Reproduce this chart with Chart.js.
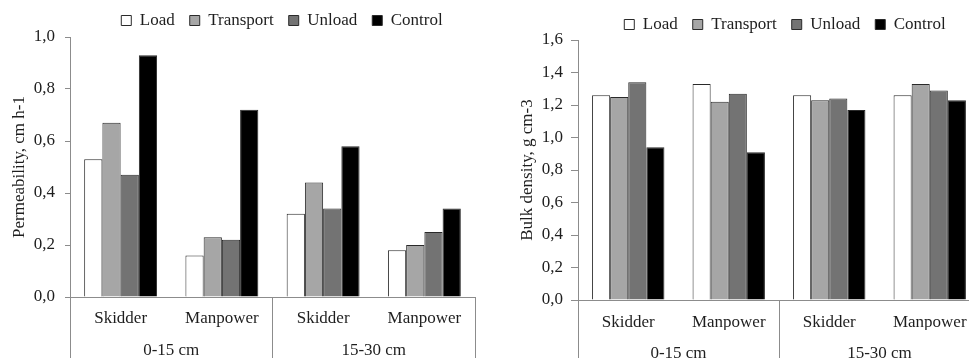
<!DOCTYPE html>
<html>
<head>
<meta charset="utf-8">
<script src="https://cdn.jsdelivr.net/npm/chart.js@4.4.1/dist/chart.umd.min.js"></script>
<style>
  html, body { margin: 0; padding: 0; background: #ffffff; width: 969px; height: 358px; overflow: hidden; }
  .wrap { position: absolute; }
  #leftWrap { left: 0px; top: -3px; width: 564px; height: 361px; }
  #rightWrap { left: 505px; top: 1px; width: 560px; height: 370px; }
</style>
</head>
<body>
<div id="leftWrap" class="wrap"><canvas id="perm" width="564" height="361"></canvas></div>
<div id="rightWrap" class="wrap"><canvas id="bulk" width="560" height="370"></canvas></div>
<script>
// ---- data ----
const categories = ['Skidder', 'Manpower', 'Skidder', 'Manpower'];
const depthGroups = ['0-15 cm', '15-30 cm'];
const seriesNames = ['Load', 'Transport', 'Unload', 'Control'];

const permLoad      = [0.53, 0.16, 0.32, 0.18];
const permTransport = [0.67, 0.23, 0.44, 0.20];
const permUnload    = [0.47, 0.22, 0.34, 0.25];
const permControl   = [0.93, 0.72, 0.58, 0.34];

const bulkLoad      = [1.26, 1.33, 1.26, 1.26];
const bulkTransport = [1.25, 1.22, 1.23, 1.33];
const bulkUnload    = [1.34, 1.27, 1.24, 1.29];
const bulkControl   = [0.94, 0.91, 1.17, 1.23];

const permTickLabels = ['0,0', '0,2', '0,4', '0,6', '0,8', '1,0'];
const bulkTickLabels = ['0,0', '0,2', '0,4', '0,6', '0,8', '1,0', '1,2', '1,4', '1,6'];

// ---- styling ----
const FONT = 'Liberation Serif, "Times New Roman", serif';
const TEXT = '#1e1e1e';
const AXIS = '#8c8c8c';
const fills = ['#ffffff', '#a6a6a6', '#737373', '#000000'];
const EDGE = '#2a2a2a';

function makeDatasets(arrs) {
  return arrs.map((d, i) => ({
    label: seriesNames[i],
    data: d,
    backgroundColor: fills[i],
    borderColor: EDGE,
    borderWidth: 1,
    borderSkipped: 'start',
    categoryPercentage: 0.72,
    barPercentage: 1.0
  }));
}

function makeChart(id, cfg) {
  const font = { family: FONT, size: 17 };
  return new Chart(document.getElementById(id), {
    type: 'bar',
    data: { labels: categories, datasets: makeDatasets(cfg.series) },
    options: {
      responsive: false,
      animation: false,
      devicePixelRatio: 1,
      layout: { padding: 0 },
      plugins: {
        legend: {
          position: 'top',
          maxHeight: cfg.legendH,
          labels: { font: font, color: TEXT, boxWidth: 10, boxHeight: 10, padding: 15 }
        },
        tooltip: { enabled: false }
      },
      scales: {
        y: {
          position: 'left',
          min: 0, max: cfg.max,
          afterFit: s => { s.width = cfg.yW; },
          ticks: {
            stepSize: 0.2, font: font, color: TEXT, padding: cfg.tickPad,
            callback: (v, i) => cfg.tickLabels[i]
          },
          grid: { drawOnChartArea: false, drawTicks: true, tickLength: cfg.tickLen, color: AXIS },
          border: { color: AXIS, width: 1 },
          title: { display: true, text: cfg.title, font: font, color: TEXT, padding: { top: cfg.titlePad, bottom: 0 } }
        },
        yPad: {
          position: 'right',
          display: true,
          afterFit: s => { s.width = cfg.rightW; },
          ticks: { display: false },
          grid: { display: false },
          border: { display: false }
        },
        x: {
          position: 'bottom',
          offset: true,
          afterFit: s => { s.height = cfg.h1; },
          ticks: { font: font, color: TEXT, maxRotation: 0, autoSkip: false, padding: cfg.p1 },
          grid: {
            offset: true, drawOnChartArea: false, drawTicks: true, tickLength: cfg.h1,
            color: c => (c.index === 1 || c.index === 3) ? 'rgba(0,0,0,0)' : AXIS
          },
          border: { color: AXIS, width: 1 }
        },
        xGroup: {
          type: 'category',
          position: 'bottom',
          labels: depthGroups,
          offset: true,
          afterFit: s => { s.height = cfg.h2; },
          ticks: { font: font, color: TEXT, maxRotation: 0, autoSkip: false, padding: cfg.p2 },
          grid: { offset: true, drawOnChartArea: false, drawTicks: true, tickLength: cfg.h2 + 10, color: AXIS },
          border: { display: false }
        }
      }
    }
  });
}

makeChart('perm', {
  series: [permLoad, permTransport, permUnload, permControl],
  max: 1.0, tickLabels: permTickLabels, title: 'Permeability, cm h-1',
  legendH: 40, yW: 70, rightW: 89, tickPad: 10, tickLen: 5, titlePad: 9,
  h1: 30, p1: -19, h2: 31, p2: -28
});

makeChart('bulk', {
  series: [bulkLoad, bulkTransport, bulkUnload, bulkControl],
  max: 1.6, tickLabels: bulkTickLabels, title: 'Bulk density, g cm-3',
  legendH: 39, yW: 73, rightW: 85, tickPad: 8, tickLen: 7, titlePad: 12,
  h1: 30, p1: -18, h2: 41, p2: -38
});
</script>
</body>
</html>
